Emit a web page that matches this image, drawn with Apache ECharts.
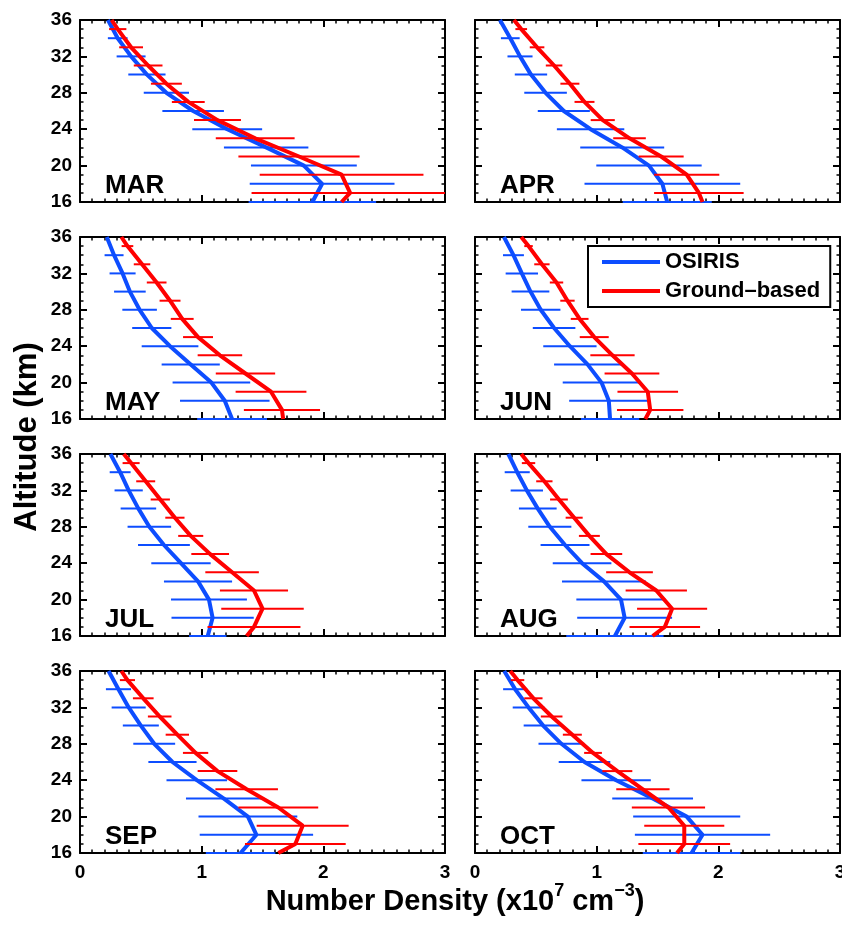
<!DOCTYPE html>
<html>
<head>
<meta charset="utf-8">
<script src="https://cdn.jsdelivr.net/npm/echarts@6/dist/echarts.min.js"></script>
<style>
html,body{margin:0;padding:0;background:#fff;}
#chart{width:842px;height:926px;}
</style>
</head>
<body>
<div id="chart"></div>
<script>
// ---------------- DATA ----------------
const months = ['MAR','APR','MAY','JUN','JUL','AUG','SEP','OCT'];
const altOsiris = [16,18,20,22,24,26,28,30,32,34,36];
const altOsirisBars = [16,18,20,22,24,26,28,30,32,34];
const altGround = [16,17,19,21,23,25,27,29,31,33,35,36];
const altGroundBars = [17,19,21,23,25,27,29,31,33,35];
const xTickValues = [0,1,2,3];
const yTickValues = [16,20,24,28,32,36];

// OSIRIS (blue) values at altOsiris, errors at altOsirisBars
const osirisMAR = [1.91,1.99,1.84,1.53,1.21,0.93,0.71,0.55,0.42,0.31,0.23];
const osirisErrMAR = [0.524,0.595,0.435,0.347,0.287,0.253,0.186,0.153,0.119,0.081];
const osirisAPR = [1.58,1.54,1.43,1.21,0.95,0.73,0.58,0.46,0.37,0.29,0.205];
const osirisErrAPR = [0.366,0.640,0.433,0.345,0.277,0.214,0.175,0.133,0.103,0.077];
const osirisMAY = [1.25,1.19,1.08,0.91,0.74,0.59,0.49,0.41,0.35,0.28,0.22];
const osirisErrMAY = [0.287,0.368,0.319,0.239,0.233,0.161,0.142,0.130,0.107,0.078];
const osirisJUN = [1.11,1.10,1.04,0.925,0.78,0.65,0.54,0.456,0.385,0.316,0.238];
const osirisErrJUN = [0.240,0.326,0.319,0.275,0.219,0.175,0.162,0.155,0.133,0.086];
const osirisJUL = [1.05,1.09,1.06,0.97,0.83,0.69,0.57,0.48,0.40,0.33,0.25];
const osirisErrJUL = [0.153,0.338,0.312,0.280,0.244,0.213,0.179,0.146,0.116,0.086];
const osirisAUG = [1.15,1.23,1.20,1.06,0.88,0.74,0.615,0.516,0.426,0.347,0.274];
const osirisErrAUG = [0.400,0.390,0.367,0.345,0.241,0.201,0.177,0.155,0.133,0.103];
const osirisSEP = [1.32,1.45,1.38,1.18,0.96,0.76,0.61,0.50,0.40,0.316,0.235];
const osirisErrSEP = [0.286,0.466,0.406,0.309,0.249,0.198,0.172,0.148,0.140,0.103];
const osirisOCT = [1.78,1.87,1.74,1.46,1.16,0.90,0.71,0.56,0.44,0.33,0.24];
const osirisErrOCT = [0.401,0.556,0.440,0.332,0.285,0.212,0.188,0.160,0.130,0.099];

// Ground-based (red) values at altGround, errors at altGroundBars
const groundMAR = [2.15,2.22,2.15,1.80,1.44,1.13,0.89,0.71,0.56,0.42,0.31,0.26];
const groundErrMAR = [0.81,0.673,0.498,0.324,0.193,0.135,0.127,0.118,0.098,0.071];
const groundAPR = [1.87,1.84,1.74,1.53,1.27,1.05,0.90,0.78,0.65,0.51,0.38,0.32];
const groundErrAPR = [0.368,0.268,0.185,0.134,0.099,0.082,0.078,0.068,0.060,0.048];
const groundMAY = [1.67,1.66,1.57,1.36,1.15,0.97,0.84,0.74,0.63,0.51,0.39,0.34];
const groundErrMAY = [0.313,0.291,0.244,0.183,0.123,0.094,0.086,0.081,0.068,0.048];
const groundJUN = [1.40,1.44,1.42,1.29,1.13,0.98,0.86,0.76,0.67,0.55,0.44,0.38];
const groundErrJUN = [0.273,0.249,0.225,0.182,0.119,0.073,0.059,0.055,0.063,0.035];
const groundJUL = [1.37,1.43,1.50,1.43,1.25,1.07,0.91,0.78,0.66,0.54,0.42,0.36];
const groundErrJUL = [0.382,0.339,0.280,0.220,0.155,0.103,0.079,0.079,0.078,0.070];
const groundAUG = [1.46,1.56,1.62,1.49,1.27,1.08,0.94,0.815,0.69,0.57,0.44,0.38];
const groundErrAUG = [0.290,0.288,0.252,0.192,0.130,0.086,0.070,0.073,0.067,0.055];
const groundSEP = [1.63,1.77,1.83,1.63,1.37,1.13,0.95,0.80,0.655,0.52,0.39,0.34];
const groundErrSEP = [0.414,0.378,0.328,0.257,0.163,0.104,0.096,0.097,0.085,0.062];
const groundOCT = [1.66,1.72,1.72,1.59,1.38,1.17,0.97,0.80,0.63,0.48,0.35,0.29];
const groundErrOCT = [0.377,0.329,0.301,0.219,0.123,0.073,0.078,0.089,0.075,0.055];

const osirisVals = [osirisMAR,osirisAPR,osirisMAY,osirisJUN,osirisJUL,osirisAUG,osirisSEP,osirisOCT];
const osirisErrs = [osirisErrMAR,osirisErrAPR,osirisErrMAY,osirisErrJUN,osirisErrJUL,osirisErrAUG,osirisErrSEP,osirisErrOCT];
const groundVals = [groundMAR,groundAPR,groundMAY,groundJUN,groundJUL,groundAUG,groundSEP,groundOCT];
const groundErrs = [groundErrMAR,groundErrAPR,groundErrMAY,groundErrJUN,groundErrJUL,groundErrAUG,groundErrSEP,groundErrOCT];

// ---------------- STYLE ----------------
const FONT = "'Liberation Sans', Arial, Helvetica, sans-serif";
const BLUE = '#0d4dff';
const RED = '#ff0000';
const OSIRIS_NAME = 'OSIRIS';
const GROUND_NAME = 'Ground–based';

const chart = echarts.init(document.getElementById('chart'), null, {renderer:'canvas'});

const grids = [], xAxes = [], yAxes = [], series = [], graphics = [];
const gridW = 365, gridH = 182;
const colLeft = [80, 475];
const rowTop = [20, 237, 454, 671];

function axisCommon() {
  return {
    axisLine: {show:true, onZero:false, lineStyle:{color:'#000', width:2}},
    axisTick: {show:true, inside:true, length:7, lineStyle:{color:'#000', width:2}},
    minorTick: {show:true, length:3.5, lineStyle:{color:'#000', width:1.5}},
    splitLine: {show:false},
    minorSplitLine: {show:false}
  };
}

function errBar(color) {
  return function (params, api) {
    const v = api.value(0), a = api.value(1), e = api.value(2);
    const p1 = api.coord([v - e, a]);
    const p2 = api.coord([v + e, a]);
    const cs = params.coordSys;
    const x1 = Math.max(p1[0], cs.x), x2 = Math.min(p2[0], cs.x + cs.width);
    return {type:'line', shape:{x1:x1, y1:p1[1], x2:x2, y2:p2[1]},
            style:{stroke:color, lineWidth:2}};
  };
}

months.forEach(function (m, i) {
  const col = i % 2, row = Math.floor(i / 2);
  const left = colLeft[col], top = rowTop[row];
  grids.push({left:left, top:top, width:gridW, height:gridH, outerBoundsMode:'none'});
  const xb = Object.assign(axisCommon(), {
    type:'value', gridIndex:i, position:'bottom', min:xTickValues[0], max:xTickValues[xTickValues.length-1], interval:1,
    minorTick:Object.assign(axisCommon().minorTick, {splitNumber:10}),
    axisLabel:{show: row === 3, margin:10, color:'#000', fontSize:19, fontWeight:'bold', fontFamily:FONT,
      formatter: function (v) { return xTickValues.indexOf(v) >= 0 ? String(v) : ''; }}
  });
  const xt = Object.assign(axisCommon(), {
    type:'value', gridIndex:i, position:'top', min:0, max:3, interval:1,
    minorTick:Object.assign(axisCommon().minorTick, {splitNumber:10}),
    axisLabel:{show:false}
  });
  xAxes.push(xb, xt);
  const yl = Object.assign(axisCommon(), {
    type:'value', gridIndex:i, position:'left', min:yTickValues[0], max:yTickValues[yTickValues.length-1], interval:4,
    minorTick:Object.assign(axisCommon().minorTick, {splitNumber:4}),
    axisLabel:{show: col === 0, margin:8, color:'#000', fontSize:19, fontWeight:'bold', fontFamily:FONT}
  });
  const yr = Object.assign(axisCommon(), {
    type:'value', gridIndex:i, position:'right', min:16, max:36, interval:4,
    minorTick:Object.assign(axisCommon().minorTick, {splitNumber:4}),
    axisLabel:{show:false}
  });
  yAxes.push(yl, yr);

  const xi = 2 * i, yi = 2 * i;
  series.push({
    type:'line', name:OSIRIS_NAME, xAxisIndex:xi, yAxisIndex:yi, symbol:'none', z:3,
    lineStyle:{color:BLUE, width:4}, itemStyle:{color:BLUE}, animation:false,
    data: altOsiris.map(function (a, k) { return [osirisVals[i][k], a]; })
  });
  series.push({
    type:'custom', name:'OSIRIS error', xAxisIndex:xi, yAxisIndex:yi, z:3, animation:false,
    renderItem: errBar(BLUE), encode:{x:0, y:1},
    data: altOsirisBars.map(function (a, k) { return [osirisVals[i][altOsiris.indexOf(a)], a, osirisErrs[i][k]]; })
  });
  series.push({
    type:'line', name:GROUND_NAME, xAxisIndex:xi, yAxisIndex:yi, symbol:'none', z:4,
    lineStyle:{color:RED, width:4}, itemStyle:{color:RED}, animation:false,
    data: altGround.map(function (a, k) { return [groundVals[i][k], a]; })
  });
  series.push({
    type:'custom', name:'Ground error', xAxisIndex:xi, yAxisIndex:yi, z:4, animation:false,
    renderItem: errBar(RED), encode:{x:0, y:1},
    data: altGroundBars.map(function (a, k) { return [groundVals[i][altGround.indexOf(a)], a, groundErrs[i][k]]; })
  });

  graphics.push({
    type:'text', left:left + 25, top:top + gridH - 29, z:10,
    style:{text:m, fontSize:26, fontWeight:'bold', fontFamily:FONT, fill:'#000'}
  });
});

graphics.push({
  type:'text', x:27, y:437, rotation:Math.PI/2, z:10,
  style:{text:'Altitude (km)', fontSize:31, fontWeight:'bold', fontFamily:FONT, fill:'#000',
         align:'center', verticalAlign:'middle'}
});
graphics.push({
  type:'text', x:455, y:902, z:10,
  style:{text:'{a|Number Density (x10}{s|7}{a| cm}{s|−3}{a|)}', align:'center', verticalAlign:'middle',
    rich:{
      a:{fontSize:29, fontWeight:'bold', fontFamily:FONT, fill:'#000', lineHeight:40},
      s:{fontSize:18, fontWeight:'bold', fontFamily:FONT, fill:'#000', verticalAlign:'top', lineHeight:18}
    }}
});

chart.setOption({
  animation:false,
  backgroundColor:'#fff',
  grid: grids,
  xAxis: xAxes,
  yAxis: yAxes,
  legend: {
    show:true, orient:'vertical', left:588, top:246, selectedMode:false,
    data:[{name:OSIRIS_NAME, icon:'rect'}, {name:GROUND_NAME, icon:'rect'}],
    itemWidth:58, itemHeight:4, itemGap:7,
    padding:[5, 10, 5, 14],
    borderColor:'#000', borderWidth:2, backgroundColor:'#fff',
    textStyle:{fontSize:22, fontWeight:'bold', fontFamily:FONT, color:'#000'}
  },
  series: series,
  graphic: graphics
});
</script>
</body>
</html>
